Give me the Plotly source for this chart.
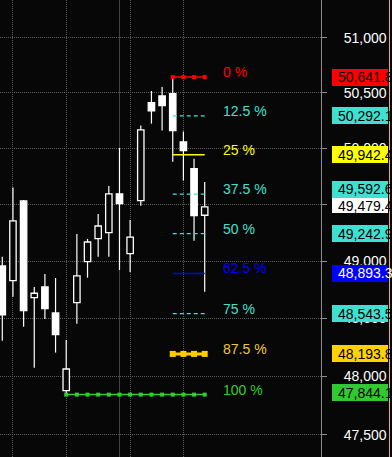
import math
import plotly.graph_objects as go

# ---- candle data ----
idx = list(range(20))
opens  = [48958, 48830, 49531, 48682, 48775, 48548, 47878, 48638, 48996, 49198,
          49251, 49594, 49066, 49534, 50411, 50471, 50491, 50057, 49819, 49405]
highs  = [49040, 49650, 49540, 48775, 48888, 48853, 48314, 49240, 49196, 49416,
          49665, 50003, 49363, 50204, 50516, 50552, 50641.8, 50150, 49908, 49700]
lows   = [48308, 48690, 48429, 48075, 48496, 48205, 47844.1, 48455, 48856, 49040,
          49040, 48923, 48906, 49489, 50222, 50159, 49881, 49712, 49181, 48734]
closes = [48533, 49355, 48568, 48720, 48586, 48360, 48064, 48871, 49169, 49310,
          49594, 49507, 49211, 50165, 50336, 50384, 50159, 49979, 49401, 49479.4]

# ---- fibonacci levels ----
fib_labels = ["0 %", "12.5 %", "25 %", "37.5 %", "50 %", "62.5 %", "75 %", "87.5 %", "100 %"]
fib_values = [50641.8, 50292.1, 49942.4, 49592.6, 49242.9, 48893.3, 48543.5, 48193.8, 47844.1]

# ---- axis ticks ----
y_ticks = [47500, 48000, 48500, 49000, 49500, 50000, 50500, 51000]
y_ticktext = [f"{v:,}" for v in y_ticks]
x_grid = [1, 6, 12, 17]
cursor_idx = 11

# ---- styles ----
BG = "#070707"
GRID = "#5c5c5c"
TURQ = "#40E0D0"
FONT = "Liberation Sans, Arial, sans-serif"
fib_line_colors = ["#FF0000", TURQ, "#FFFF00", TURQ, TURQ, "#0000E6", TURQ, "#FFCC00", "#32CD32"]
fib_text_colors = ["#FF0000", TURQ, "#FFFF00", TURQ, TURQ, "#0000FF", TURQ, "#F2C830", "#32CD32"]
fib_dash = ["solid", "4px,3px", "solid", "4px,3px", "4px,3px", "solid", "4px,3px", "solid", "solid"]
fib_width = [1.5, 1.2, 1.5, 1.2, 1.2, 1.5, 1.2, 3, 1.5]
fib_marker = [4, 0, 0, 0, 0, 0, 0, 6, 4]
box_colors = ["#FF0000", TURQ, "#FFFF00", TURQ, TURQ, "#0000FF", TURQ, "#FFD200", "#32C832"]
box_text_colors = ["#000000"] * 5 + ["#FFFFFF"] + ["#000000"] * 3
box_shift = [0, 0, 0, 5, 0, 0, 0, 0, 2]

PLOT_W = 321
Y_RANGE = [4.67498, 4.71050]
X_RANGE = [-0.216, 29.917]

fig = go.Figure()

# wicks (upper and lower segments so hollow bodies stay hollow)
wx, wy = [], []
for i, o, h, l, c in zip(idx, opens, highs, lows, closes):
    top, bot = max(o, c), min(o, c)
    wx += [i, i, None, i, i, None]
    wy += [top, h, None, l, bot, None]
fig.add_trace(go.Scatter(x=wx, y=wy, mode="lines", line=dict(color="white", width=1.2),
                         hoverinfo="skip"))

up = [k for k in idx if closes[k] >= opens[k]]
dn = [k for k in idx if closes[k] < opens[k]]
fig.add_trace(go.Bar(x=up, base=[opens[k] for k in up], y=[closes[k] - opens[k] for k in up],
                     width=0.6, marker=dict(color=BG, line=dict(color="white", width=1.3))))
fig.add_trace(go.Bar(x=dn, base=[closes[k] for k in dn], y=[opens[k] - closes[k] for k in dn],
                     width=0.6, marker=dict(color="white", line=dict(color="white", width=1.3))))

hi_i = highs.index(max(highs))
lo_i = lows.index(min(lows))
last_i = idx[-1]
start_mid = max(hi_i, lo_i)

for n, v in enumerate(fib_values):
    if n == 0:
        s = hi_i
    elif n == len(fib_values) - 1:
        s = lo_i
    else:
        s = start_mid
    xs = list(range(s, last_i + 1))
    mode = "lines+markers" if fib_marker[n] else "lines"
    fig.add_trace(go.Scatter(
        x=xs, y=[v] * len(xs), mode=mode,
        line=dict(color=fib_line_colors[n], width=fib_width[n], dash=fib_dash[n]),
        marker=dict(symbol="square", size=fib_marker[n] or 1, color=fib_line_colors[n]),
        hoverinfo="skip"))
    fig.add_annotation(x=20.5, y=math.log10(v), xref="x", yref="y", text=fib_labels[n],
                       showarrow=False, xanchor="left", yanchor="middle", yshift=5,
                       font=dict(size=14, color=fib_text_colors[n], family=FONT))

# arrow tip of the 87.5 % price box (marker just right of the axis line)
arrow_n = 7
fig.add_trace(go.Scatter(x=[30.32], y=[fib_values[arrow_n]], mode="markers",
                         marker=dict(symbol="triangle-left", size=13, color=box_colors[arrow_n],
                                     line=dict(width=0)),
                         cliponaxis=False, hoverinfo="skip"))

# price boxes on the right axis
box_x0 = 332 / PLOT_W
box_w = 56
text_x = 335.5 / PLOT_W
last = closes[-1]
box_vals = fib_values + [last]
box_cols = box_colors + ["#FFFFFF"]
box_tcols = box_text_colors + ["#000000"]
box_sh = box_shift + [1]
for v, col, sh in zip(box_vals, box_cols, box_sh):
    fig.add_annotation(x=box_x0, y=math.log10(v), xref="paper", yref="y", text=" ",
                       showarrow=False, xanchor="left", yanchor="middle", yshift=sh,
                       width=box_w, height=17 if col != "#FFFFFF" else 15, borderpad=0,
                       bgcolor=col, borderwidth=0)
for v, tc, sh in zip(box_vals, box_tcols, box_sh):
    fig.add_annotation(x=text_x, y=math.log10(v), xref="paper", yref="y",
                       text=f"{v:,.1f}", showarrow=False, xanchor="left", yanchor="middle",
                       yshift=sh, font=dict(size=14, color=tc, family=FONT))

# cursor line and right border
fig.add_shape(type="line", xref="x", yref="paper", x0=cursor_idx, x1=cursor_idx, y0=0, y1=1,
              line=dict(color="#444444", width=1), layer="between")
fig.add_shape(type="line", xref="paper", yref="paper", x0=389.5 / PLOT_W, x1=389.5 / PLOT_W,
              y0=0, y1=1, line=dict(color="#E8B050", width=1), layer="above")

fig.update_layout(
    width=392, height=457,
    margin=dict(l=0, r=392 - PLOT_W, t=0, b=0),
    paper_bgcolor=BG, plot_bgcolor=BG,
    showlegend=False, barmode="overlay",
    font=dict(family=FONT, size=14, color="white"),
    xaxis=dict(range=X_RANGE, showticklabels=False, ticks="", tickvals=x_grid,
               showgrid=True, gridcolor=GRID, gridwidth=1, griddash="1px,1px",
               zeroline=False, showline=False, fixedrange=True),
    yaxis=dict(type="log", range=Y_RANGE, side="right", tickvals=y_ticks, ticktext=y_ticktext,
               tickfont=dict(size=14, color="white"), showline=True, linecolor="#8c8c8c",
               linewidth=1, ticks="outside", ticklen=5, tickcolor="#8c8c8c",
               showgrid=True, gridcolor=GRID, gridwidth=1, griddash="1px,1px",
               zeroline=False, ticklabelstandoff=14, fixedrange=True),
)

fig.write_html("out.html")
